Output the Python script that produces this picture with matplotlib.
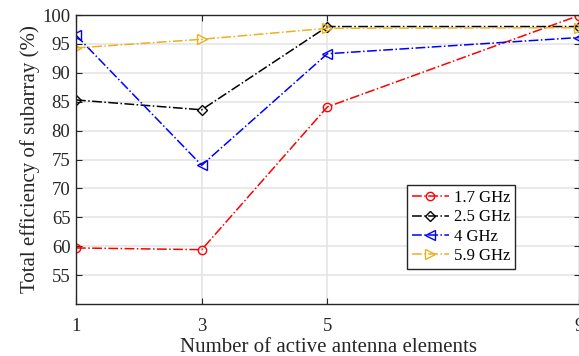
import matplotlib.pyplot as plt

plt.rcParams['font.family'] = ['Liberation Serif', 'DejaVu Serif']
plt.rcParams['font.size'] = 13.5

elements = [1, 3, 5, 9]
eff_17 = [59.7, 59.4, 84.1, 99.9]
eff_25 = [85.3, 83.6, 98.0, 98.0]
eff_4 = [96.5, 74.0, 93.3, 96.1]
eff_59 = [94.3, 95.8, 97.7, 97.8]
labels = ['1.7 GHz', '2.5 GHz', '4 GHz', '5.9 GHz']

fig = plt.figure(figsize=(5.79, 3.56), dpi=100)
W, H = 579, 356
ax = fig.add_axes([76 / W, 1 - 304 / H, (580 - 76) / W, (304 - 15) / H])

ax.plot(elements, eff_17, '-.', color='red', marker='o', mfc='none', ms=6, lw=1.1, label=labels[0])
ax.plot(elements, eff_25, '-.', color='black', marker='D', mfc='none', ms=5, lw=1.1, label=labels[1])
ax.plot(elements, eff_4, '-.', color='blue', marker='<', mfc='none', ms=7, lw=1.1, label=labels[2])
ax.plot(elements, eff_59, '-.', color='#EDB120', marker='>', mfc='none', ms=7, lw=1.1, label=labels[3])

ax.set_xlim(1, 9.02)
ax.set_ylim(50, 100)
ax.set_xticks(elements)
ax.set_yticks(range(55, 101, 5))
ax.grid(True, color='#e3e3e3', lw=1.1)
ax.set_axisbelow(True)
ax.tick_params(direction='in', top=True, right=True, colors='#262626', labelcolor='#262626',
               length=4)
ax.tick_params(axis='x', pad=10)
ax.tick_params(axis='y', pad=4)
for s in ax.spines.values():
    s.set_color('#262626')
    s.set_linewidth(1)

ax.set_xlabel('Number of active antenna elements', color='#262626', fontsize=15, labelpad=2)
ax.set_ylabel('Total efficiency of subarray (%)', color='#262626', fontsize=15, labelpad=2)

leg = ax.legend(loc='upper left', bbox_to_anchor=((407 - 76) / 504, (304 - 185) / 289),
                fancybox=False, edgecolor='#262626', framealpha=1, handlelength=2.2,
                handletextpad=0.3, borderpad=0.3, labelspacing=0.2, borderaxespad=0,
                fontsize=12)
leg.get_frame().set_linewidth(1)

fig.savefig('out.png', dpi=100)
